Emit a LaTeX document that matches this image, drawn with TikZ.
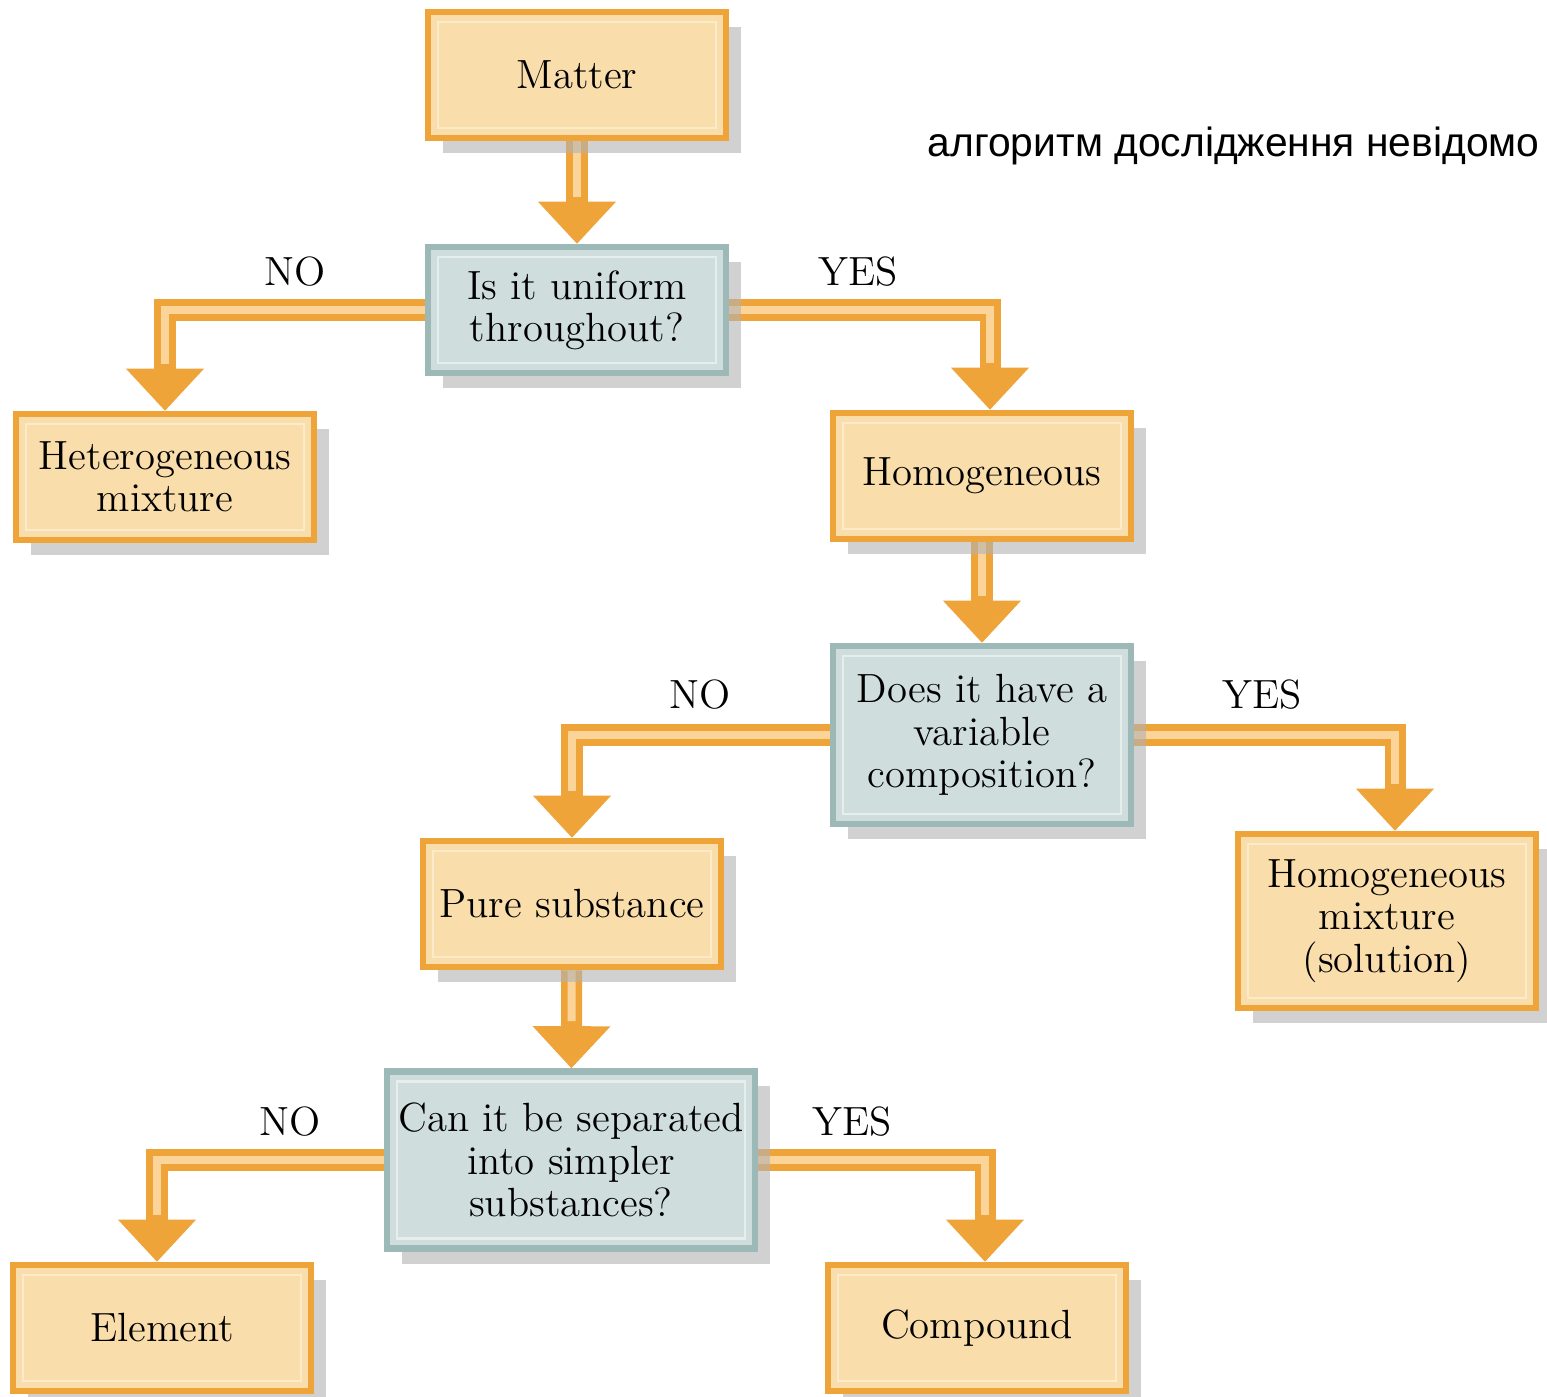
\documentclass[tikz,border=0pt]{standalone}
\usepackage{fontspec}
\newfontfamily\uafont{Liberation Sans}
\usetikzlibrary{arrows.meta,shadows,backgrounds}
\definecolor{boxedge}{HTML}{EFA43A}
\definecolor{boxfill}{HTML}{F9DDAB}
\definecolor{boxrim}{HTML}{FCEBCB}
\definecolor{questedge}{HTML}{9CB9B7}
\definecolor{questfill}{HTML}{CFDEDD}
\definecolor{questrim}{HTML}{E6EEED}
\definecolor{flowcore}{HTML}{FBD49A}

\begin{document}
\begin{tikzpicture}[x=0.01cm,y=-0.01cm,
		every node/.style={font=\fontsize{11.6}{12}\selectfont, align=center},
		box/.style={draw=boxedge, fill=boxfill, line width=0.065cm,
			minimum width=2.98cm, minimum height=1.26cm, inner sep=0pt,
			drop shadow={shadow xshift=0.15cm, shadow yshift=-0.15cm, fill=black!30, opacity=0.6},
			path picture={\draw[boxrim, line width=0.7pt]
				([shift={(0.1cm,-0.1cm)}]path picture bounding box.north west) rectangle
				([shift={(-0.1cm,0.1cm)}]path picture bounding box.south east);}},
		quest/.style={box, draw=questedge, fill=questfill,
			path picture={\draw[questrim, line width=0.7pt]
				([shift={(0.1cm,-0.1cm)}]path picture bounding box.north west) rectangle
				([shift={(-0.1cm,0.1cm)}]path picture bounding box.south east);}},
		flow/.style={draw=boxedge, line width=0.21cm,
			-{Triangle[length=0.42cm,width=0.78cm,line width=0pt]},
			postaction={draw=flowcore, line width=0.08cm, arrows=-, shorten >=0.47cm}}]
		\useasboundingbox (0,0) rectangle (1547,1397);
		% boxes
		\node[box] (matter) at (577,75) {Matter};
		\node[quest] (uniform) at (577,310) {Is it uniform\\throughout?};
		\node[box] (hetero) at (165,477) {Heterogeneous\\mixture};
		\node[box] (homo) at (982,476) {Homogeneous};
		\node[quest, minimum height=1.78cm] (variable) at (982,735) {Does it have a\\variable\\composition?};
		\node[box] (pure) at (572,904) {Pure substance};
		\node[box, minimum height=1.74cm] (solution) at (1387,921) {Homogeneous\\mixture\\(solution)};
		\node[quest, minimum width=3.68cm, minimum height=1.77cm] (separate) at (571,1160) {Can it be separated\\into simpler\\substances?};
		\node[box] (element) at (162,1328) {Element};
		\node[box] (compound) at (977,1328) {Compound};
		% answers
		\node (no1) at (295,272) {NO};
		\node (yes1) at (858,272) {YES};
		\node (no2) at (700,695) {NO};
		\node (yes2) at (1262,695) {YES};
		\node (no3) at (290,1122) {NO};
		\node (yes3) at (852,1122) {YES};
		\node[font=\uafont\fontsize{11.6}{14}\selectfont, anchor=base west, inner sep=0pt] (title) at (927,157) {алгоритм дослідження невідомо};
		% arrows
		\begin{pgfonlayer}{background}
			\draw[flow] (matter) -- (uniform);
			\draw[flow] (uniform.west) -| (hetero.north);
			\draw[flow] (uniform.east) -| ([xshift=0.08cm]homo.north);
			\draw[flow] (homo) -- (variable);
			\draw[flow] (variable.west) -| (pure.north);
			\draw[flow] (variable.east) -| ([xshift=0.08cm]solution.north);
			\draw[flow] (pure) -- (separate);
			\draw[flow] (separate.west) -| ([xshift=-0.05cm]element.north);
			\draw[flow] (separate.east) -| ([xshift=0.08cm]compound.north);
		\end{pgfonlayer}
	\end{tikzpicture}
\end{document}
